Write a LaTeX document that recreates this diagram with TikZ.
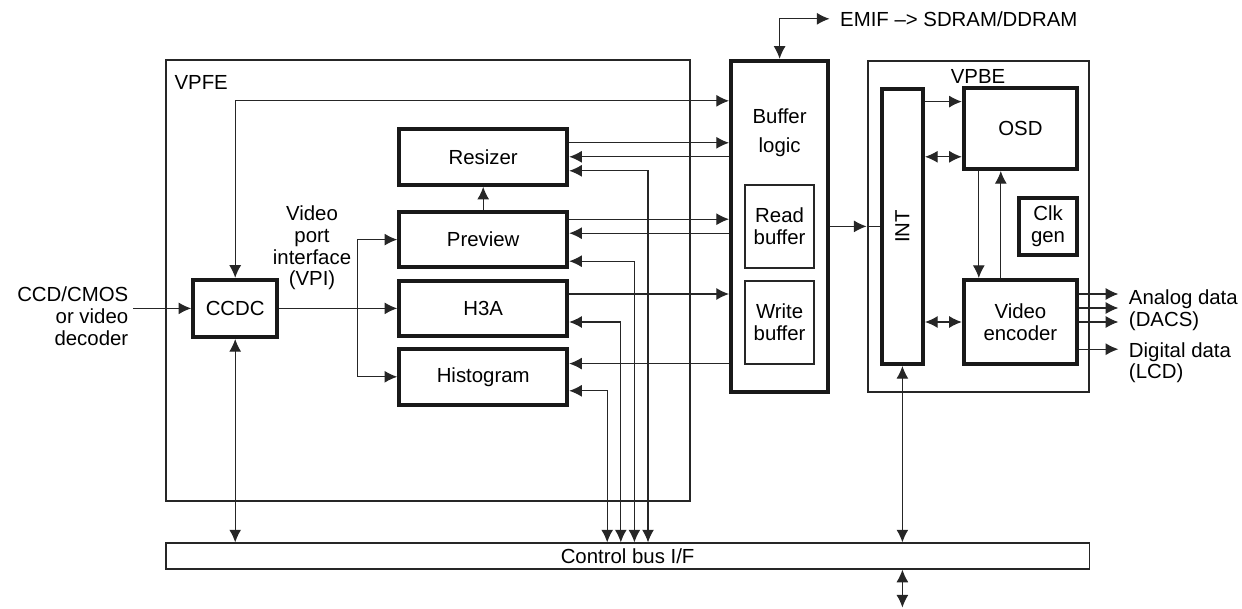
\documentclass[tikz,border=0pt]{standalone}
\usepackage{fontspec}
\setmainfont{Liberation Sans}
\usetikzlibrary{positioning,arrows.meta}

\begin{document}
\begin{tikzpicture}[
  font=\fontsize{14.5}{15.5}\selectfont,
  >={Latex[length=9pt,width=8.5pt]},
  blk/.style={draw=black!90,line width=2.8pt,inner sep=0pt,align=center},
  frame/.style={draw=black!85,line width=1.7pt,inner sep=0pt},
  sub/.style={draw=black!85,line width=1.5pt,inner sep=0pt,align=center},
  flow/.style={->,line width=0.85pt,draw=black!85},
  both/.style={<->,line width=0.85pt,draw=black!85},
  wire/.style={line width=0.85pt,draw=black!85}
]
\useasboundingbox (0,0) rectangle (31.05,15.2);

% video processing front end
\node[frame,minimum width=13.1cm,minimum height=11.03cm] (vpfe) at (10.7,8.19) {};
\node (vpfelbl) at (5.03,13.15) {VPFE};
\node[blk,minimum width=4.2cm,minimum height=1.4cm] (resizer) at (12.08,11.28) {Resizer};
\node[blk,minimum width=4.2cm,minimum height=1.38cm] (preview) at (12.08,9.21) {Preview};
\node[blk,minimum width=4.2cm,minimum height=1.38cm] (h3a) at (12.08,7.49) {H3A};
\node[blk,minimum width=4.2cm,minimum height=1.4cm] (histo) at (12.08,5.78) {Histogram};
\node[blk,minimum width=2.1cm,minimum height=1.43cm] (ccdc) at (5.88,7.49) {CCDC};
\node[anchor=east,align=right] (src) at (3.33,7.29) {CCD/CMOS\\or video\\decoder};
\node[align=center] (vpi) at (7.8,9.0) {Video\\port\\interface\\(VPI)};

% buffer logic
\node[blk,minimum width=2.43cm,minimum height=8.28cm] (buffer) at (19.49,9.54) {};
\node[align=center] (buflbl) at (19.49,11.88) {Buffer\\[5.5pt]logic};
\node[sub,minimum width=1.73cm,minimum height=2.08cm] (readbuf) at (19.49,9.54) {Read\\buffer};
\node[sub,minimum width=1.73cm,minimum height=2.08cm] (writebuf) at (19.49,7.14) {Write\\buffer};
\node[anchor=west] (emif) at (20.88,14.73) {EMIF \textendash> SDRAM/DDRAM};

% video processing back end
\node[frame,minimum width=5.53cm,minimum height=8.28cm] (vpbe) at (24.46,9.54) {};
\node (vpbelbl) at (24.45,13.28) {VPBE};
\node[blk,minimum width=1.03cm,minimum height=6.88cm] (int) at (22.56,9.54) {};
\node[rotate=90] (intlbl) at (int) {INT};
\node[blk,minimum width=2.83cm,minimum height=2.03cm] (osd) at (25.51,11.99) {OSD};
\node[blk,minimum width=1.45cm,minimum height=1.43cm] (clk) at (26.2,9.54) {Clk\\gen};
\node[blk,minimum width=2.83cm,minimum height=2.1cm] (venc) at (25.51,7.15) {Video\\encoder};
\node[anchor=west,align=left] (analog) at (28.1,7.45) {Analog data\\(DACS)};
\node[anchor=west,align=left] (digital) at (28.1,6.13) {Digital data\\(LCD)};

% control bus
\node[draw=black!85,line width=0.85pt,minimum width=23.08cm,minimum height=0.65cm,inner sep=0pt] (bus) at (15.69,1.3) {Control bus I/F};

% front end wiring
\draw[flow] (src.east |- ccdc.west) -- (ccdc.west);
\draw[both] (ccdc.north) |- ([yshift=-1.05cm]buffer.north west);
\draw[both] (ccdc.south) -- (ccdc.south |- bus.north);
\draw[flow] (ccdc.east) -- (h3a.west);
\draw[both] (preview.west) -- ++(-1.0,0) |- (histo.west);
\draw[flow] (preview.north) -- (resizer.south);

% to and from the buffer
\draw[flow] ([yshift=.35cm]resizer.east) -- ([yshift=.35cm]resizer.east -| buffer.west);
\draw[flow] (resizer.east -| buffer.west) -- (resizer.east);
\draw[flow] ([yshift=.51cm]preview.east) -- ([yshift=.51cm]preview.east -| buffer.west);
\draw[flow] ([yshift=.16cm]preview.east -| buffer.west) -- ([yshift=.16cm]preview.east);
\draw[flow] ([yshift=.36cm]h3a.east) -- ([yshift=.36cm]h3a.east -| buffer.west);
\draw[flow] ([yshift=.33cm]histo.east -| buffer.west) -- ([yshift=.33cm]histo.east);

% control bus taps
\foreach \blk/\dy/\dx in {resizer/-.35/.51, preview/-.54/.17, h3a/-.34/-.17, histo/-.35/-.51}
  \draw[both] ([yshift=\dy cm]\blk.east) -| ([xshift=\dx cm]bus.north);

% back end wiring
\draw[both,shorten >=4pt] (buffer.north) |- (emif.west);
\draw[flow] (buffer.east) -- (buffer.east -| vpbe.west);
\draw[wire] (buffer.east -| vpbe.west) -- (int.west);
\draw[flow] ([yshift=.67cm]osd.west -| int.east) -- ([yshift=.67cm]osd.west);
\draw[both] ([yshift=-.71cm]osd.west -| int.east) -- ([yshift=-.71cm]osd.west);
\draw[both] (venc.west -| int.east) -- (venc.west);
\draw[flow] ([xshift=-1.04cm]osd.south) -- ([xshift=-1.04cm]osd.south |- venc.north);
\draw[flow] ([xshift=-.49cm]venc.north) -- ([xshift=-.49cm]venc.north |- osd.south);
\foreach \dy in {.7,.35,0}
  \draw[flow,shorten >=4pt] ([yshift=\dy cm]venc.east) -- ([yshift=\dy cm]venc.east -| analog.west);
\draw[flow,shorten >=4pt] ([yshift=-.68cm]venc.east) -- ([yshift=-.68cm]venc.east -| digital.west);
\draw[both] (int.south) -- (int.south |- bus.north);
\coordinate (host) at ([yshift=-.95cm]int.south |- bus.south);
\draw[both] (int.south |- bus.south) -- (host);
\end{tikzpicture}
\end{document}
